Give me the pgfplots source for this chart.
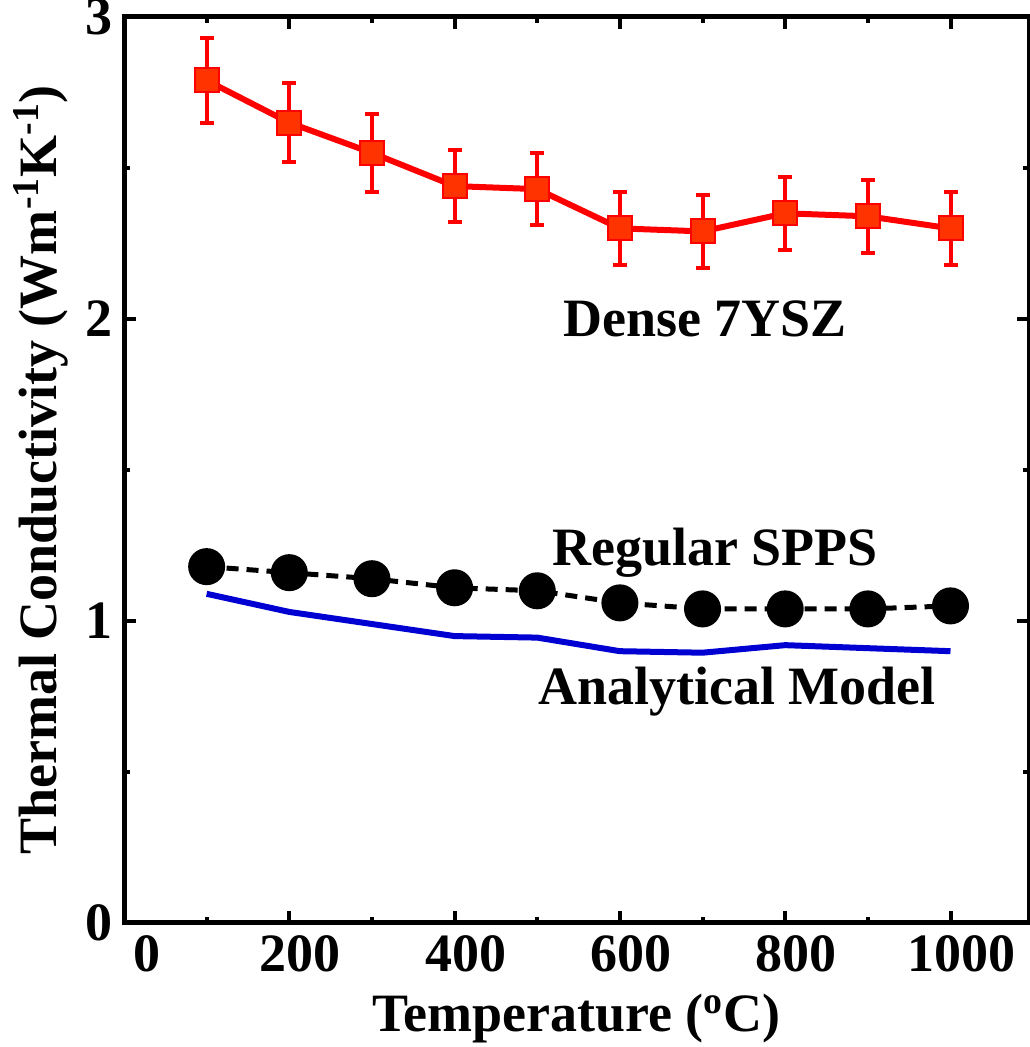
\documentclass[border=0pt]{standalone}
\usepackage{pgfplots}
\pgfplotsset{compat=1.18}
\usepackage{fontspec}
\setmainfont{Liberation Serif}

\begin{document}
\begin{tikzpicture}
\useasboundingbox (0,0) rectangle (514.5pt,523.5pt);
\begin{axis}[
  at={(62pt,62pt)}, anchor=south west,
  scale only axis, width=452.5pt, height=453pt,
  xmin=0, xmax=1095, ymin=0, ymax=3,
  axis line style={line width=2.5pt},
  xtick={0,200,...,1000}, minor xtick={100,300,...,900},
  xticklabels={\hspace*{12pt}0,200,400,600,800,1000},
  ytick={0,1,2,3}, minor ytick={0.5,1.5,2.5},
  tick align=inside,
  major tick length=6pt, minor tick length=3pt,
  every tick/.style={black, line width=2pt},
  tick label style={font=\fontsize{27}{29}\selectfont\bfseries},
  /pgf/number format/assume math mode=true,
  /pgf/number format/1000 sep={},
  xticklabel style={yshift=-3pt, xshift=5.5pt},
  yticklabel style={xshift=-2pt},
  xlabel={\bfseries Temperature (\textsuperscript{o}C)},
  ylabel={\bfseries Thermal Conductivity (Wm\textsuperscript{-1}K\textsuperscript{-1})},
  label style={font=\fontsize{27}{29}\selectfont},
  xlabel style={yshift=-4pt},
  ylabel style={yshift=2pt},
  clip=false,
]
% analytical model
\addplot[color={rgb,255:red,0;green,0;blue,210}, line width=3pt] coordinates {
(100,1.09) (200,1.03) (300,0.99) (400,0.95) (500,0.945)
(600,0.90) (700,0.895) (800,0.92) (900,0.91) (1000,0.90)};
% regular SPPS
\addplot[black, line width=2.5pt, dash pattern=on 6pt off 4pt,
  mark=*, mark size=8pt, mark options={solid, fill=black}] coordinates {
(100,1.18) (200,1.16) (300,1.14) (400,1.11) (500,1.10)
(600,1.06) (700,1.04) (800,1.04) (900,1.04) (1000,1.05)};
% dense 7YSZ
\addplot[red, line width=3pt, mark=square*, mark size=6pt,
  mark options={fill={rgb,255:red,255;green,51;blue,0}, draw=red, line width=1pt},
  error bars/.cd, y dir=both, y explicit,
  error bar style={red, line width=2pt},
  error mark options={rotate=90, red, mark size=3.5pt, line width=2pt}]
coordinates {
(100,2.79) +- (0,0.14)
(200,2.65) +- (0,0.13)
(300,2.55) +- (0,0.13)
(400,2.44) +- (0,0.12)
(500,2.43) +- (0,0.12)
(600,2.30) +- (0,0.12)
(700,2.29) +- (0,0.12)
(800,2.35) +- (0,0.12)
(900,2.34) +- (0,0.12)
(1000,2.30) +- (0,0.12)};
\node[font=\fontsize{27}{29}\selectfont\bfseries] at (axis cs:703,2.0) {Dense 7YSZ};
\node[font=\fontsize{27}{29}\selectfont\bfseries] at (axis cs:715,1.225) {Regular SPPS};
\node[font=\fontsize{27}{29}\selectfont\bfseries] at (axis cs:742,0.765) {Analytical Model};
\end{axis}
\end{tikzpicture}
\end{document}
